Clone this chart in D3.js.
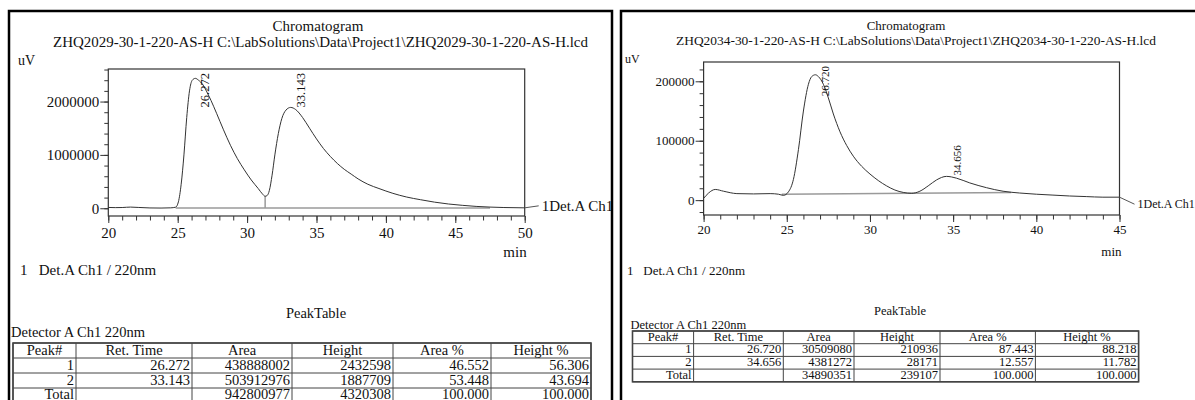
<!DOCTYPE html>
<html>
<head>
<meta charset="utf-8">
<script src="https://cdn.jsdelivr.net/npm/d3@7"></script>
<style>
body { margin: 0; background: #fff; }
svg { display: block; }
text { font-family: "Liberation Serif", "Times New Roman", serif; fill: #111; }
</style>
</head>
<body>
<script>

// left report: ZHQ2029 (time in min, signal in uV)
const trace1 = [
  [20.0, 15000], [20.5, 12000], [21.0, 14000], [21.6, 22000], [22.2, 15000], [23.0, 6000],
  [23.8, 4000], [24.5, 8000], [24.85, 20000], [25.05, 120000], [25.25, 450000], [25.45, 1000000],
  [25.65, 1700000], [25.85, 2200000], [26.05, 2400000], [26.27, 2435000], [26.5, 2400000],
  [26.8, 2320000], [27.1, 2180000], [27.4, 2020000], [27.8, 1780000], [28.3, 1470000],
  [28.8, 1180000], [29.3, 930000], [29.8, 720000], [30.3, 530000], [30.8, 370000], [31.1, 270000],
  [31.3, 225000], [31.45, 240000], [31.6, 330000], [31.8, 620000], [32.0, 1000000], [32.25, 1400000],
  [32.5, 1680000], [32.8, 1840000], [33.14, 1890000], [33.5, 1850000], [34.0, 1700000],
  [34.5, 1500000], [35.0, 1300000], [35.5, 1120000], [36.0, 970000], [36.5, 840000], [37.0, 730000],
  [37.5, 640000], [38.0, 550000], [38.7, 450000], [39.5, 370000], [40.5, 280000], [41.5, 210000],
  [42.5, 160000], [43.5, 115000], [44.5, 80000], [45.5, 55000], [46.5, 35000], [47.5, 22000],
  [48.5, 14000], [50.0, 8000]
];
const peakTimes1 = [26.272, 33.143];
const peakLabels1 = ["26.272", "33.143"];
const baseline1 = [[24.85, 5000], [47.5, 5000]];
const drop1 = [31.3, 225000];
const yMajor1 = [0, 1000000, 2000000];
const xMajor1 = [20, 25, 30, 35, 40, 45, 50];
const table1 = [
  ["1", "26.272", "438888002", "2432598", "46.552", "56.306"],
  ["2", "33.143", "503912976", "1887709", "53.448", "43.694"],
  ["Total", "", "942800977", "4320308", "100.000", "100.000"]
];

// right report: ZHQ2034
const trace2 = [
  [20.0, 3000], [20.3, 12000], [20.7, 18000], [21.2, 15000], [22.0, 11000], [23.0, 10500],
  [24.0, 11000], [24.5, 10000], [24.8, 8000], [25.1, 14000], [25.4, 35000], [25.7, 85000],
  [26.0, 150000], [26.3, 195000], [26.5, 208000], [26.72, 211000], [26.9, 208000], [27.2, 195000],
  [27.5, 172000], [27.8, 145000], [28.2, 115000], [28.6, 92000], [29.0, 74000], [29.5, 57000],
  [30.0, 44000], [30.5, 33000], [31.0, 24000], [31.5, 17000], [32.0, 13000], [32.5, 11500],
  [33.0, 15000], [33.5, 24000], [34.0, 34000], [34.6, 40000], [35.2, 37000], [36.0, 29000],
  [37.0, 21000], [38.0, 15000], [39.0, 12000], [40.0, 10000], [41.0, 8500], [42.0, 7000],
  [43.0, 6000], [44.0, 5000], [45.0, 5000]
];
const peakTimes2 = [26.720, 34.656];
const peakLabels2 = ["26.720", "34.656"];
const baseline2 = [[24.7, 10000], [32.5, 11500], [38.5, 13000]];
const yMajor2 = [0, 100000, 200000];
const xMajor2 = [20, 25, 30, 35, 40, 45];
const table2 = [
  ["1", "26.720", "30509080", "210936", "87.443", "88.218"],
  ["2", "34.656", "4381272", "28171", "12.557", "11.782"],
  ["Total", "", "34890351", "239107", "100.000", "100.000"]
];

const tableHead = ["Peak#", "Ret. Time", "Area", "Height", "Area %", "Height %"];

// ---------- drawing ----------
const svg = d3.select("body").append("svg")
  .attr("width", 1195).attr("height", 400);
svg.append("rect").attr("width", 1195).attr("height", 400).attr("fill", "#fff");

function drawPanel(o) {
  const clipId = "clip" + o.id;
  svg.append("clipPath").attr("id", clipId)
    .append("rect").attr("x", o.frame[0]).attr("y", o.frame[1])
    .attr("width", o.frame[2]).attr("height", o.frame[3]);

  const g = svg.append("g").attr("clip-path", `url(#${clipId})`);

  // titles
  g.append("text").attr("x", o.titleX).attr("y", o.titleY)
    .attr("text-anchor", "middle").attr("font-size", o.fs).text("Chromatogram");
  g.append("text").attr("x", o.subX[0]).attr("y", o.titleY + o.subDy)
    .attr("font-size", o.fs)
    .attr("textLength", o.subX[1] - o.subX[0]).attr("lengthAdjust", "spacingAndGlyphs")
    .text(o.subtitle);
  g.append("text").attr("x", o.uvX).attr("y", o.uvY).attr("font-size", o.fs - 1).text("uV");

  const x = d3.scaleLinear().domain(o.xDom).range(o.xRange);
  const y = d3.scaleLinear().domain(o.yDom).range(o.yRange);
  const [x0, x1] = o.xRange, [yb, yt] = o.yRange;

  // plot frame
  g.append("rect").attr("x", x0).attr("y", yt).attr("width", x1 - x0).attr("height", yb - yt)
    .attr("fill", "none").attr("stroke", "#333").attr("stroke-width", 1.2);

  // minor ticks
  g.append("g").attr("transform", `translate(${x0},0)`)
    .call(d3.axisLeft(y).tickValues(d3.range(0, o.yDom[1], o.yMinor).concat(d3.range(-o.yMinor, o.yDom[0], -o.yMinor)))
      .tickSize(4).tickFormat(""))
    .call(a => a.select(".domain").remove());
  g.append("g").attr("transform", `translate(0,${yb})`)
    .call(d3.axisBottom(x).tickValues(d3.range(o.xDom[0], o.xDom[1] + 0.01, 1)).tickSize(4.5).tickFormat(""))
    .call(a => a.select(".domain").remove());

  // major ticks + labels
  const ya = g.append("g").attr("transform", `translate(${x0},0)`)
    .call(d3.axisLeft(y).tickValues(o.yMajor).tickSize(8).tickPadding(1).tickFormat(d3.format("d")));
  const xa = g.append("g").attr("transform", `translate(0,${yb})`)
    .call(d3.axisBottom(x).tickValues(o.xMajor).tickSize(7).tickPadding(o.xPad).tickFormat(d3.format("d")));
  [ya, xa].forEach(a => {
    a.select(".domain").remove();
    a.selectAll("text").attr("font-size", o.fs).attr("font-family", "Liberation Serif").attr("fill", "#111");
  });
  g.selectAll(".tick line").attr("stroke", "#333");

  g.append("text").attr("x", x1 + 2).attr("y", o.minY).attr("text-anchor", "end")
    .attr("font-size", o.fs).text("min");

  // integration baseline and drop line
  const line = d3.line().x(d => x(d[0])).y(d => y(d[1]));
  g.append("path").attr("d", line(o.baseline)).attr("fill", "none")
    .attr("stroke", "#9a9a9a").attr("stroke-width", 1.5);
  if (o.drop) {
    g.append("line").attr("x1", x(o.drop[0])).attr("x2", x(o.drop[0]))
      .attr("y1", y(o.drop[1])).attr("y2", y(o.baseline[0][1]))
      .attr("stroke", "#9a9a9a").attr("stroke-width", 1.5);
  }

  // chromatogram trace
  g.append("path").attr("d", line.curve(d3.curveMonotoneX)(o.trace)).attr("fill", "none")
    .attr("stroke", "#333").attr("stroke-width", 1);

  // channel tag at the end of the trace
  const last = o.trace[o.trace.length - 1];
  g.append("path")
    .attr("d", `M${x(last[0])},${y(last[1])} L${x1 + o.tag[0]},${y(last[1]) + o.tag[1]}`)
    .attr("fill", "none").attr("stroke", "#555");
  g.append("text").attr("x", x1 + o.tag[0] + 3).attr("y", y(last[1]) + o.tag[1] + o.tagFs * 0.33)
    .attr("font-size", o.tagFs).text("1Det.A Ch1");

  // rotated peak labels
  o.peakTimes.forEach((t, i) => {
    const near = o.trace.reduce((a, b) => Math.abs(b[0] - t) < Math.abs(a[0] - t) ? b : a);
    const len = o.pfs * 2.75;
    const sy = Math.max(y(near[1]) - 1, yt + len + 4);
    g.append("text")
      .attr("transform", `translate(${x(t) + 14},${sy}) rotate(-90)`)
      .attr("font-size", o.pfs).text(o.peakLabels[i]);
  });

  g.append("text").attr("x", o.detX).attr("y", o.detY).attr("font-size", o.fs)
    .attr("xml:space", "preserve").text("1   Det.A Ch1 / 220nm");

  // peak table
  g.append("text").attr("x", o.ptX).attr("y", o.ptY).attr("text-anchor", "middle")
    .attr("font-size", o.tfs).text("PeakTable");
  g.append("text").attr("x", o.cols[0] - 2).attr("y", o.rows[0] - o.detGap)
    .attr("font-size", o.tfs).text("Detector A Ch1 220nm");

  const cols = o.cols, rows = o.rows;
  const tg = g.append("g").attr("stroke", "#444").attr("stroke-width", 1);
  rows.forEach(r => tg.append("line").attr("x1", cols[0]).attr("x2", cols[cols.length - 1]).attr("y1", r).attr("y2", r));
  cols.forEach(c => tg.append("line").attr("x1", c).attr("x2", c).attr("y1", rows[0]).attr("y2", rows[rows.length - 1]));
  tg.append("rect").attr("x", cols[0]).attr("y", rows[0])
    .attr("width", cols[cols.length - 1] - cols[0]).attr("height", rows[rows.length - 1] - rows[0])
    .attr("fill", "none").attr("stroke-width", 1.6);

  tableHead.forEach((h, j) => {
    g.append("text").attr("x", (cols[j] + cols[j + 1]) / 2).attr("y", rows[1] - 3)
      .attr("text-anchor", "middle").attr("font-size", o.tfs).text(h);
  });
  o.table.forEach((row, i) => {
    row.forEach((v, j) => {
      g.append("text").attr("x", cols[j + 1] - 2).attr("y", rows[i + 2] - 3)
        .attr("text-anchor", "end").attr("font-size", o.tfs).text(v);
    });
  });

  // outer report frame
  svg.append("rect").attr("x", o.frame[0]).attr("y", o.frame[1])
    .attr("width", o.frame[2]).attr("height", o.frame[3])
    .attr("fill", "none").attr("stroke", "#000").attr("stroke-width", 2.5);
}

drawPanel({
  id: 1, frame: [9, 11, 603, 420],
  titleX: 318, titleY: 31, subDy: 16, fs: 15, tagFs: 15,
  subtitle: "ZHQ2029-30-1-220-AS-H C:\\LabSolutions\\Data\\Project1\\ZHQ2029-30-1-220-AS-H.lcd",
  subX: [53, 588], uvX: 18, uvY: 65,
  xDom: [20, 50], xRange: [108.3, 524.7],
  yDom: [-145000, 2610000], yRange: [216, 69], yMinor: 200000,
  yMajor: yMajor1, xMajor: xMajor1, xPad: 4, minY: 257,
  trace: trace1, baseline: baseline1, drop: drop1, tag: [14, -2],
  peakTimes: peakTimes1, peakLabels: peakLabels1, pfs: 12.5,
  detX: 20, detY: 275,
  ptX: 316, ptY: 318, tfs: 14.5, detGap: 6,
  cols: [13, 76, 192, 292, 393, 491, 591], rows: [343, 358, 373, 388, 402],
  table: table1
});

drawPanel({
  id: 2, frame: [621, 11, 620, 420],
  titleX: 906, titleY: 30, subDy: 15, fs: 13, tagFs: 12,
  subtitle: "ZHQ2034-30-1-220-AS-H C:\\LabSolutions\\Data\\Project1\\ZHQ2034-30-1-220-AS-H.lcd",
  subX: [676, 1156], uvX: 625, uvY: 63,
  xDom: [20, 45], xRange: [703.6, 1119.5],
  yDom: [-25000, 232500], yRange: [215, 62], yMinor: 20000,
  yMajor: yMajor2, xMajor: xMajor2, xPad: 3, minY: 256,
  trace: trace2, baseline: baseline2, drop: null, tag: [15, 7],
  peakTimes: peakTimes2, peakLabels: peakLabels2, pfs: 11,
  detX: 627, detY: 275,
  ptX: 900, ptY: 315, tfs: 12.5, detGap: 2,
  cols: [632.5, 693.6, 783.3, 854, 940, 1035.4, 1138.6], rows: [331, 343.7, 356.4, 369.1, 381.8],
  table: table2
});
</script>
</body>
</html>
